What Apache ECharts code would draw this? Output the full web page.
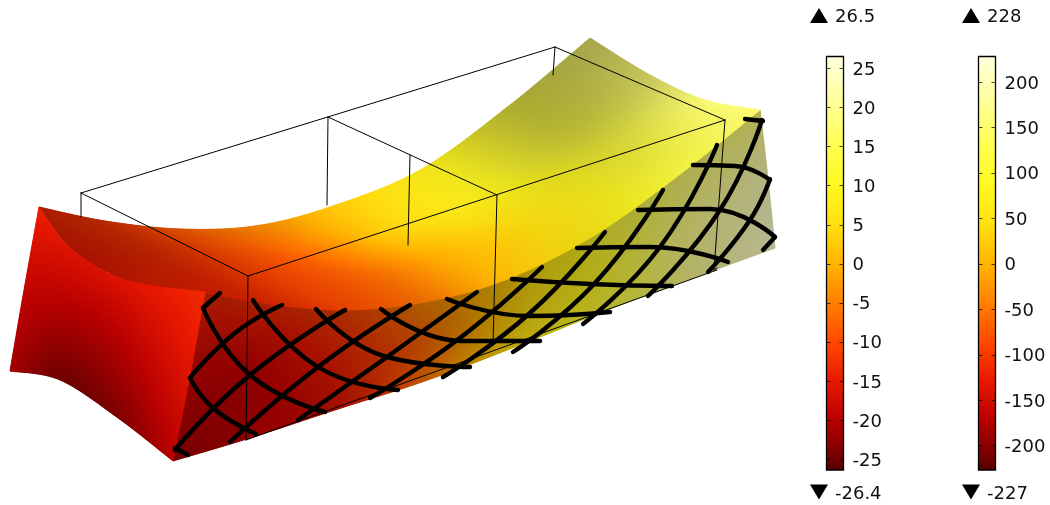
<!DOCTYPE html>
<html><head><meta charset="utf-8">
<style>html,body{margin:0;padding:0;background:#fff}#c{width:1050px;height:505px}</style>
<script src="https://cdn.jsdelivr.net/npm/echarts@6/dist/echarts.min.js"></script>
</head><body><div id="c"></div>
<script>
// colour scale stops: value on the first bar, colour
const scaleValues = [-26.4,-25,-20,-15,-10,-5,0,5,10,15,20,26.5];
const scaleColors = ['#500000','#700000','#b80000','#e81800','#ff4800','#ff8000','#ffb400','#ffe010','#fff820','#ffff50','#ffff90','#ffffe0'];
const ticksA = [-25,-20,-15,-10,-5,0,5,10,15,20,25];
const ticksB = [-200,-150,-100,-50,0,50,100,150,200];
const rangeA = [-26.4,26.5];
const rangeB = [-227,228];

// projected surface, rows of [x,y]
const topPos = [
 [[205,292],[270,304],[345,310],[425,302],[505,280],[590,238],[675,178],[760,110]],
 [[135,283],[215,285],[290,287],[370,278],[450,255],[533,214],[620,150],[705,100]],
 [[75,252],[160,254],[235,258],[312,252],[390,231],[477,192],[565,128],[650,75]],
 [[39,207],[105,221],[180,229],[255,226],[330,207],[420,170],[510,105],[590,38]]];
const topVal = [
 [-14,-13,-10,-6,1,7,13,18],
 [-14,-13.5,-10.5,-7,0,6,13,18],
 [-15,-12.5,-10,-6,3,9,14,18],
 [-13,-11.5,-8,-4,2,8,14,18]];
const topLit = [
 [.82,.85,.9,.92,.98,.92,.95,.98],
 [.76,.82,.9,.95,1,.95,.85,.97],
 [.72,.76,.88,1,1,.95,.72,.78],
 [.7,.74,.85,.93,1,.95,.68,.65]];
const sidePos = [
 [[205,292],[270,304],[345,310],[425,302],[505,280],[590,238],[675,178],[760,110]],
 [[190,375],[258,372],[340,362],[425,342],[510,314],[598,275],[683,230],[767,170]],
 [[173,461],[250,438],[335,410],[425,381],[515,347],[605,311],[690,279],[775,248]]];
const sideVal = [
 [-13,-12.5,-10.5,-4,2,11,17,18],
 [-19,-20,-14,-7,3,11,19,23],
 [-24,-21,-16,-6,5,13,20,25]];
const sideLit = [
 [.68,.68,.68,.68,.68,.68,.68,.7],
 [.75,.8,.72,.7,.7,.7,.7,.7],
 [.9,.85,.72,.75,.75,.72,.7,.72]];
const endPos = [
 [[39,207],[70,248],[125,280],[205,292]],
 [[24,290],[65,305],[120,330],[190,375]],
 [[10,371],[60,380],[118,418],[173,461]]];
const endVal = [
 [-14,-16,-16,-13],
 [-19,-20,-19.5,-16],
 [-21.5,-25,-24,-20]];

// reinforcement wires
const wiresUp = [
 [[203,308],[220,293]],
 [[190,378],[235,333],[282,305]],
 [[175,450],[250,375],[345,310]],
 [[230,442],[318,367],[410,305]],
 [[298,420],[387,357],[477,292]],
 [[370,398],[460,338],[542,267]],
 [[443,377],[530,313],[605,232]],
 [[513,352],[595,283],[663,190]],
 [[583,324],[660,247],[717,145]],
 [[648,296],[720,210],[762,120]],
 [[708,272],[750,220],[770,179]],
 [[763,250],[775,237]]];
const wiresDown = [
 [[175,448],[188,455]],
 [[190,378],[213,408],[256,434]],
 [[203,308],[250,375],[325,412]],
 [[253,300],[318,367],[398,390]],
 [[316,309],[387,357],[470,367]],
 [[381,309],[463,341],[540,341]],
 [[447,299],[530,316],[610,312]],
 [[512,279],[590,284],[672,286]],
 [[577,248],[650,247],[728,262]],
 [[638,210],[710,209],[775,237]],
 [[693,165],[735,166],[770,180]],
 [[745,119],[763,121]]];
// thin box
const boxLines = [
 [[81,193],[555,47]],[[81,193],[248,276]],[[555,47],[725,120]],[[248,276],[725,120]],
 [[328,117],[497,195]],
 [[81,193],[81,217]],[[328,117],[327,205]],[[410,155],[408,245]],[[555,47],[553,75]],
 [[248,276],[246,440]],[[497,195],[493,345]],[[725,120],[714,270]],
 [[246,440],[717,270]],[[714,270],[717,268]]];
// end-of-range markers
const markerTexts = [['26.5','-26.4'],['228','-227']];

function hex(c){return [1,3,5].map(i=>parseInt(c.substr(i,2),16));}
const scaleRGB = scaleColors.map(hex);
function colorOf(v,l){
  let i=0; while(i<scaleValues.length-2 && v>scaleValues[i+1]) i++;
  let f=(v-scaleValues[i])/(scaleValues[i+1]-scaleValues[i]); f=Math.max(0,Math.min(1,f));
  const a=scaleRGB[i],b=scaleRGB[i+1];
  return 'rgb('+[0,1,2].map(k=>Math.round((a[k]+(b[k]-a[k])*f)*l)).join(',')+')';
}
function cr(p0,p1,p2,p3,t){return .5*(2*p1+(p2-p0)*t+(2*p0-5*p1+4*p2-p3)*t*t+(3*p1-p0-3*p2+p3)*t*t*t);}
function sample(g,r,c,tr,tc){
  const R=g.length,C=g[0].length,row=[];
  const cl=(x,n)=>Math.max(0,Math.min(n-1,x));
  for(let k=-1;k<=2;k++){
    const rr=g[cl(r+k,R)];
    row.push(cr(rr[cl(c-1,C)],rr[cl(c,C)],rr[cl(c+1,C)],rr[cl(c+2,C)],tc));
  }
  return cr(row[0],row[1],row[2],row[3],tr);
}
function surfaceSeries(pos,val,lit,z){
  const xs=pos.map(r=>r.map(p=>p[0])), ys=pos.map(r=>r.map(p=>p[1]));
  const cells=[];
  for(let r=0;r<pos.length-1;r++)for(let c=0;c<pos[0].length-1;c++)cells.push([c,r]);
  const N=22;
  return {type:'custom',coordinateSystem:'cartesian2d',xAxisIndex:0,yAxisIndex:0,z,silent:true,clip:false,
    data:cells,
    renderItem(params,api){
      const c=api.value(0),r=api.value(1),children=[];
      const P=(a,b)=>api.coord([sample(xs,r,c,b/N,a/N),sample(ys,r,c,b/N,a/N)]);
      for(let a=0;a<N;a++)for(let b=0;b<N;b++){
        const col=colorOf(sample(val,r,c,(b+.5)/N,(a+.5)/N),
                          lit?Math.min(1,sample(lit,r,c,(b+.5)/N,(a+.5)/N)):1);
        children.push({type:'polygon',shape:{points:[P(a,b),P(a+1,b),P(a+1,b+1),P(a,b+1)]},
          style:{fill:col,stroke:col,lineWidth:1}});
      }
      return {type:'group',children};
    }};
}
function lineSeries(pts,width,smooth,z){
  return {type:'line',xAxisIndex:0,yAxisIndex:0,data:pts,symbol:'none',smooth,silent:true,z,clip:false,
    lineStyle:{color:'#000',width,cap:'round',join:'round'}};
}
function barSeries(idx,range,ticks){
  return {type:'custom',coordinateSystem:'cartesian2d',xAxisIndex:idx,yAxisIndex:idx*2-1,z:3,silent:true,clip:false,
    data:[[0,range[0],1,range[1]]],encode:{x:[0,2],y:[1,3]},
    renderItem(params,api){
      const a=api.coord([0,api.value(3)]),b=api.coord([1,api.value(1)]);
      const lo=scaleValues[0],hi=scaleValues[scaleValues.length-1];
      const stops=scaleValues.map((v,i)=>({offset:(hi-v)/(hi-lo),color:scaleColors[i]})).reverse();
      const children=[{type:'rect',shape:{x:a[0],y:a[1],width:b[0]-a[0],height:b[1]-a[1]},
        style:{fill:new echarts.graphic.LinearGradient(0,0,0,1,stops),stroke:'#000',lineWidth:1.3}}];
      ticks.forEach(t=>{
        const y=Math.round(api.coord([0,t])[1])+.5;
        children.push({type:'line',shape:{x1:a[0],y1:y,x2:a[0]+4,y2:y},style:{stroke:'rgba(0,0,0,.7)',lineWidth:1}});
        children.push({type:'line',shape:{x1:b[0]-4,y1:y,x2:b[0],y2:y},style:{stroke:'rgba(0,0,0,.7)',lineWidth:1}});
      });
      return {type:'group',children};
    }};
}
function markerSeries(x,texts){
  const lab=t=>({show:true,position:'right',distance:7,formatter:t,fontFamily:'DejaVu Sans',fontSize:18,color:'#111',offset:[0,2]});
  return {type:'scatter',xAxisIndex:0,yAxisIndex:0,silent:true,z:5,clip:false,
    data:[{value:[x,15.5],symbol:'triangle',symbolSize:[18,15],label:lab(texts[0])},
          {value:[x,492],symbol:'triangle',symbolRotate:180,symbolSize:[18,15],label:lab(texts[1])}],
    itemStyle:{color:'#000',opacity:1}};
}
const hiddenX=(g)=>({type:'value',gridIndex:g,min:0,max:1,show:false});
function barY(g,range,ticks){
  return {type:'value',gridIndex:g,min:range[0],max:range[1],position:'right',z:6,
    splitLine:{show:false},axisLine:{show:false},axisTick:{show:false},
    axisLabel:{show:true,customValues:ticks,margin:9,formatter:'{a|{value}}',
      rich:{a:{fontFamily:'DejaVu Sans',fontSize:18,color:'#111',padding:[4,0,0,0]}}}};
}
const series=[
  surfaceSeries(sidePos,sideVal,sideLit,2),
  surfaceSeries(topPos,topVal,topLit,2),
  surfaceSeries(endPos,endVal,null,2),
  ...boxLines.map(l=>lineSeries(l,1,false,3)),
  ...wiresUp.map(l=>lineSeries(l,4.4,.5,4)),
  ...wiresDown.map(l=>lineSeries(l,4.4,.5,4)),
  barSeries(1,rangeA,ticksA),barSeries(2,rangeB,ticksB),
  markerSeries(819,markerTexts[0]),markerSeries(971,markerTexts[1])
];
const chart=echarts.init(document.getElementById('c'),null,{renderer:'canvas'});
chart.setOption({
  animation:false,backgroundColor:'#fff',
  grid:[{left:0,top:0,width:1050,height:505},
        {left:826.5,top:56.5,width:17,height:413.5},
        {left:978.5,top:56.5,width:17,height:413.5}],
  xAxis:[{type:'value',gridIndex:0,min:0,max:1050,show:false},hiddenX(1),hiddenX(2)],
  yAxis:[{type:'value',gridIndex:0,min:0,max:505,inverse:true,show:false},
    barY(1,rangeA,ticksA),{type:'value',gridIndex:1,min:rangeA[0],max:rangeA[1],show:false},
    barY(2,rangeB,ticksB),{type:'value',gridIndex:2,min:rangeB[0],max:rangeB[1],show:false}],
  series
});
</script></body></html>
